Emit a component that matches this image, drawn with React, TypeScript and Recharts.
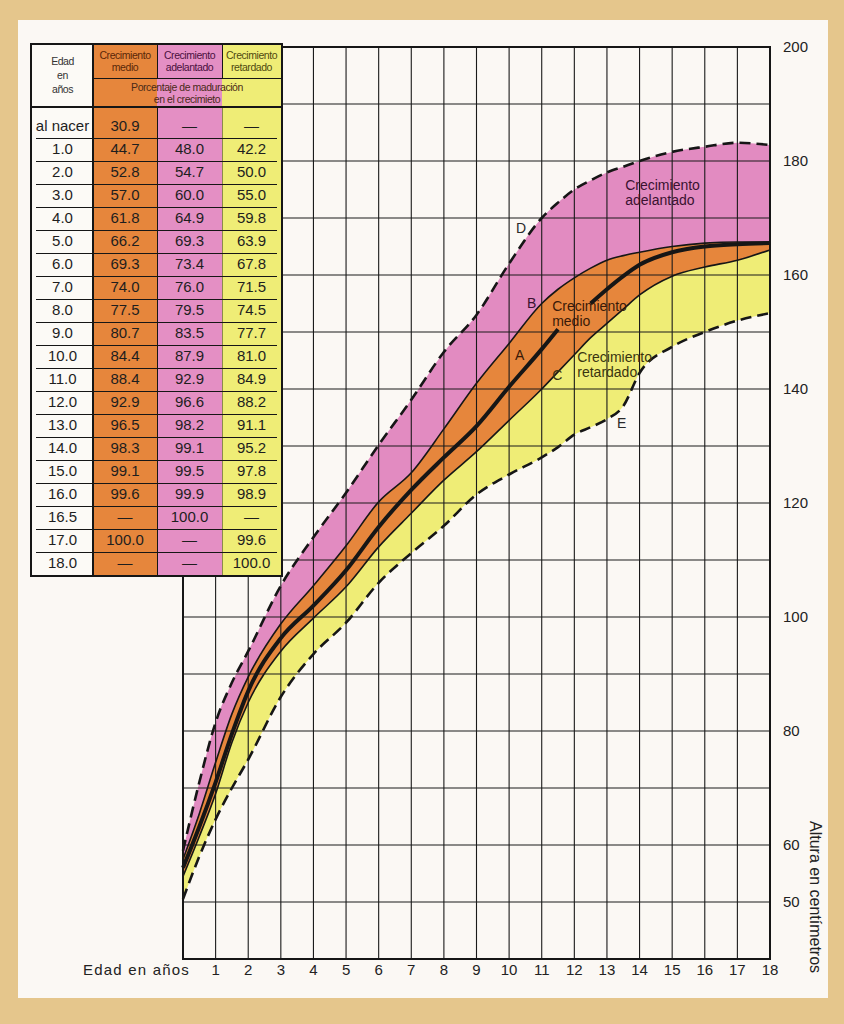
import React from 'react';
import {
  ComposedChart,
  Area,
  Line,
  XAxis,
  YAxis,
  CartesianGrid,
  ReferenceDot,
  ReferenceArea,
} from 'recharts';

// edad en años (x) y alturas en cm
const years = [0, 0.5, 1, 1.5, 2, 3, 4, 5, 6, 7, 8, 9, 10, 11, 11.5, 12, 12.5, 13, 13.5, 14, 15, 16, 17, 18];
// D: límite superior del crecimiento adelantado (discontinua)
const curveD = [59, 71, 81.5, 88.5, 94, 105.5, 114, 121.8, 130.2, 138.1, 146.5, 153, 162, 170, 172.7, 175, 176.6, 178, 179, 180, 181.6, 182.5, 183.2, 182.8];
// B: límite superior del crecimiento medio
const curveB = [57.5, 65.5, 74.5, 83, 89.5, 98.8, 105.5, 112.5, 120.2, 125.3, 133, 141, 148, 155, 157.5, 159.5, 161.2, 162.6, 163.4, 164, 165, 165.6, 165.8, 165.8];
// A: curva media (trazo grueso, cortado por el rótulo)
const curveA = [56, 63.2, 71, 79.5, 87, 96.3, 102, 108.2, 115.8, 122.3, 128, 133.5, 140.4, 147, 150.5, null, 155, 157.5, 159.8, 161.8, 164, 165, 165.4, 165.6];
// C: límite inferior del crecimiento medio
const curveC = [54.5, 61.5, 69, 78, 85, 94, 99.8, 105.3, 112.3, 118.2, 124, 129, 134.5, 140, 143, 146, 149, 151.5, 154, 156.5, 159.8, 161.4, 162.6, 164.4];
// E: límite inferior del crecimiento retardado (discontinua)
const curveE = [50.5, 58, 64.5, 70, 75, 86, 93.5, 99, 106, 111.2, 116, 121.5, 125, 128, 129.8, 132, 133.3, 134.7, 137, 142.8, 147.4, 150, 152, 153.3];

const xTicks = [0, 1, 2, 3, 4, 5, 6, 7, 8, 9, 10, 11, 12, 13, 14, 15, 16, 17, 18];
const yTicks = [40, 50, 60, 70, 80, 90, 100, 110, 120, 130, 140, 150, 160, 170, 180, 190, 200];
const yLabelled = [50, 60, 80, 100, 120, 140, 160, 180, 200];

// tabla
const ageLabels = ['al nacer', '1.0', '2.0', '3.0', '4.0', '5.0', '6.0', '7.0', '8.0', '9.0', '10.0', '11.0', '12.0', '13.0', '14.0', '15.0', '16.0', '16.5', '17.0', '18.0'];
const medio = ['30.9', '44.7', '52.8', '57.0', '61.8', '66.2', '69.3', '74.0', '77.5', '80.7', '84.4', '88.4', '92.9', '96.5', '98.3', '99.1', '99.6', '—', '100.0', '—'];
const adelantado = ['—', '48.0', '54.7', '60.0', '64.9', '69.3', '73.4', '76.0', '79.5', '83.5', '87.9', '92.9', '96.6', '98.2', '99.1', '99.5', '99.9', '100.0', '—', '—'];
const retardado = ['—', '42.2', '50.0', '55.0', '59.8', '63.9', '67.8', '71.5', '74.5', '77.7', '81.0', '84.9', '88.2', '91.1', '95.2', '97.8', '98.9', '—', '99.6', '100.0'];

const PINK = '#e28bc1';
const ORANGE = '#e6863c';
const YELLOW = '#efed76';
const INK = '#161616';
const FONT = "'Liberation Sans', Arial, sans-serif";

const data = years.map((x, i) => ({
  x,
  d: curveD[i],
  b: curveB[i],
  a: curveA[i],
  c: curveC[i],
  e: curveE[i],
  pink: [curveB[i], curveD[i]],
  orange: [curveC[i], curveB[i]],
  yellow: [curveE[i], curveC[i]],
}));

const notes = [
  { x: 13.56, y: 174.9, lines: ['Crecimiento', 'adelantado'], color: '#3a1230' },
  { x: 11.32, y: 153.7, lines: ['Crecimiento', 'medio'], color: '#3a1a08' },
  { x: 12.09, y: 144.7, lines: ['Crecimiento', 'retardado'], color: '#3a3510' },
  { x: 10.21, y: 167.4, lines: ['D'], color: '#2a2a2a' },
  { x: 10.55, y: 154.2, lines: ['B'], color: '#3a1230' },
  { x: 10.18, y: 145.1, lines: ['A'], color: '#3a1a08' },
  { x: 11.32, y: 141.6, lines: ['C'], color: '#3a3510' },
  { x: 13.31, y: 133.2, lines: ['E'], color: '#2a2a2a' },
];

const W = 844;
const H = 1024;
// plot area: x 183..770, y 47..959
const Y_W = 50;
const X_H = 30;

const noteLabel = (lines: string[], color: string) => (props: any) => {
  const vb = props.viewBox || {};
  const x = (vb.x || 0) + (vb.width || 0) / 2;
  const y = (vb.y || 0) + (vb.height || 0) / 2;
  return (
    <text x={x} y={y} fill={color} fontSize={14} fontFamily={FONT}>
      {lines.map((t, i) => (
        <tspan key={i} x={x} dy={i === 0 ? 0 : 15}>
          {t}
        </tspan>
      ))}
    </text>
  );
};

const XTick = (props: any) => {
  const { x, y, payload } = props;
  if (payload.value === 0) {
    return (
      <text x={x + 7} y={y} dy="0.71em" textAnchor="end" fill="#222" fontSize={15} fontFamily={FONT} letterSpacing={1.2}>
        Edad en años
      </text>
    );
  }
  return (
    <text x={x} y={y} dy="0.71em" textAnchor="middle" fill="#222" fontSize={15} fontFamily={FONT}>
      {payload.value}
    </text>
  );
};

const YTick = (props: any) => {
  const { x, y, payload } = props;
  if (!yLabelled.includes(payload.value)) return <g />;
  return (
    <text x={x} y={y} dy="0.355em" textAnchor="start" fill="#222" fontSize={15} fontFamily={FONT}>
      {payload.value}
    </text>
  );
};

function Table() {
  const cols = [61, 64, 65, 59];
  const colX = [0, 61, 125, 190];
  const rowTop = (i: number) => (i === 0 ? 63 : 93 + (i - 1) * 23);
  const rowH = (i: number) => (i === 0 ? 30 : 23);
  const head: React.CSSProperties = {
    position: 'absolute',
    top: 0,
    height: 33,
    fontFamily: FONT,
    fontSize: 10.5,
    letterSpacing: -0.45,
    lineHeight: '12px',
    textAlign: 'center',
    paddingTop: 4,
    boxSizing: 'border-box',
    whiteSpace: 'nowrap',
  };
  return (
    <div
      style={{
        position: 'absolute',
        left: 30,
        top: 43,
        width: 253,
        height: 534,
        border: `2px solid ${INK}`,
        boxSizing: 'border-box',
        background: '#fcfaf6',
      }}
    >
      {/* column colours */}
      <div style={{ position: 'absolute', left: colX[1], top: 0, width: cols[1], height: 530, background: ORANGE }} />
      <div style={{ position: 'absolute', left: colX[2], top: 0, width: cols[2], height: 530, background: '#e48fc4' }} />
      <div style={{ position: 'absolute', left: colX[3], top: 0, width: cols[3], height: 530, background: YELLOW }} />
      {/* vertical rules */}
      <div style={{ position: 'absolute', left: colX[1] - 1, top: 0, width: 1.6, height: 530, background: INK }} />
      <div style={{ position: 'absolute', left: colX[2], top: 0, width: 1, height: 33, background: INK }} />
      <div style={{ position: 'absolute', left: colX[3], top: 0, width: 1, height: 33, background: INK }} />
      <div style={{ position: 'absolute', left: colX[2], top: 63, width: 1, height: 467, background: INK }} />
      <div style={{ position: 'absolute', left: colX[3], top: 63, width: 1, height: 467, background: 'rgba(20,20,20,0.45)' }} />
      {/* header */}
      <div style={{ ...head, left: 0, width: cols[0], height: 61, paddingTop: 9, lineHeight: '14px', color: '#333' }}>
        Edad
        <br />
        en
        <br />
        años
      </div>
      <div style={{ ...head, left: colX[1], width: cols[1], color: '#5a2608' }}>
        Crecimiento
        <br />
        medio
      </div>
      <div style={{ ...head, left: colX[2], width: cols[2], color: '#4a1040' }}>
        Crecimiento
        <br />
        adelantado
      </div>
      <div style={{ ...head, left: colX[3], width: cols[3], color: '#4f4a10' }}>
        Crecimiento
        <br />
        retardado
      </div>
      <div style={{ position: 'absolute', left: colX[1], top: 33, width: 188, height: 1, background: INK }} />
      <div style={{ ...head, left: colX[1], top: 34, width: 188, height: 27, paddingTop: 2, color: '#4a2a18' }}>
        Porcentaje de maduración
        <br />
        en el crecimieto
      </div>
      <div style={{ position: 'absolute', left: 0, top: 61, width: 249, height: 2, background: INK }} />
      {/* rows */}
      {ageLabels.map((age, i) => {
        const vals = [age, medio[i], adelantado[i], retardado[i]];
        return (
          <div key={age} style={{ position: 'absolute', left: 0, top: rowTop(i), width: 249, height: rowH(i) }}>
            {vals.map((v, j) => (
              <div
                key={j}
                style={{
                  position: 'absolute',
                  left: colX[j],
                  width: cols[j],
                  bottom: 1,
                  height: 22,
                  lineHeight: '22px',
                  textAlign: 'center',
                  fontFamily: FONT,
                  fontSize: 15,
                  color: '#1e1e1e',
                }}
              >
                {v}
              </div>
            ))}
            {i < ageLabels.length - 1 && (
              <div style={{ position: 'absolute', left: 4, right: 4, bottom: -1, height: 1.3, background: INK }} />
            )}
          </div>
        );
      })}
    </div>
  );
}

export default function App() {
  return (
    <div style={{ position: 'absolute', left: 0, top: 0, width: W, height: H, background: '#e5c68c', overflow: 'hidden' }}>
      <div style={{ position: 'absolute', left: 18, top: 20, width: 810, height: 978, background: '#fbf8f4' }} />

      {/* bands */}
      <div style={{ position: 'absolute', left: 0, top: 0 }}>
        <ComposedChart width={W} height={H} data={data} margin={{ top: 47, left: 183, right: W - 770, bottom: H - 959 }}>
          <XAxis dataKey="x" type="number" domain={[0, 18]} hide />
          <YAxis type="number" domain={[40, 200]} hide />
          <Area type="monotone" dataKey="pink" stroke="none" fill={PINK} fillOpacity={1} isAnimationActive={false} />
          <Area type="monotone" dataKey="orange" stroke="none" fill={ORANGE} fillOpacity={1} isAnimationActive={false} />
          <Area type="monotone" dataKey="yellow" stroke="none" fill={YELLOW} fillOpacity={1} isAnimationActive={false} />
        </ComposedChart>
      </div>

      {/* grid, curves and axes */}
      <div style={{ position: 'absolute', left: 0, top: 0 }}>
        <ComposedChart width={W} height={H} data={data} margin={{ top: 47, left: 183, right: W - 770 - Y_W, bottom: H - 959 - X_H }}>
          <CartesianGrid stroke="#1a1a1a" strokeWidth={1.1} />
          <XAxis
            dataKey="x"
            type="number"
            domain={[0, 18]}
            ticks={xTicks}
            interval={0}
            height={X_H}
            axisLine={false}
            tickLine={false}
            tickSize={0}
            tickMargin={5}
            tick={<XTick />}
          />
          <YAxis
            type="number"
            orientation="right"
            domain={[40, 200]}
            ticks={yTicks}
            interval={0}
            width={Y_W}
            axisLine={false}
            tickLine={false}
            tickSize={0}
            tickMargin={13}
            tick={<YTick />}
          />
          <ReferenceArea x1={0} x2={18} y1={40} y2={200} fill="none" stroke={INK} strokeWidth={2} />
          <Line type="monotone" dataKey="d" stroke={INK} strokeWidth={2.6} strokeDasharray="11 6" dot={false} isAnimationActive={false} />
          <Line type="monotone" dataKey="b" stroke={INK} strokeWidth={1.6} dot={false} isAnimationActive={false} />
          <Line type="monotone" dataKey="a" stroke={INK} strokeWidth={4} dot={false} connectNulls={false} isAnimationActive={false} />
          <Line type="monotone" dataKey="c" stroke={INK} strokeWidth={1.6} dot={false} isAnimationActive={false} />
          <Line type="monotone" dataKey="e" stroke={INK} strokeWidth={2.6} strokeDasharray="11 6" dot={false} isAnimationActive={false} />
          {notes.map((n, i) => (
            <ReferenceDot key={i} x={n.x} y={n.y} r={0} fill="none" stroke="none" label={noteLabel(n.lines, n.color)} />
          ))}
        </ComposedChart>
      </div>

      <Table />

      <div
        style={{
          position: 'absolute',
          left: 807,
          top: 821,
          writingMode: 'vertical-rl',
          fontFamily: FONT,
          fontSize: 16,
          lineHeight: '16px',
          color: '#222',
          whiteSpace: 'nowrap',
        }}
      >
        Altura en centímetros
      </div>
    </div>
  );
}
